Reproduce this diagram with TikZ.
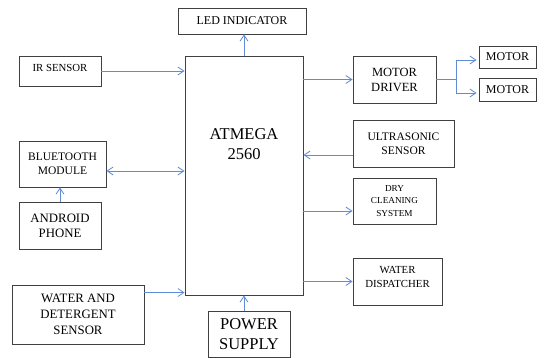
\documentclass[tikz,border=0pt]{standalone}
\usepackage{fontspec}
\setmainfont{Liberation Serif}
\usetikzlibrary{arrows.meta}
\definecolor{linkblue}{RGB}{96,140,212}
\definecolor{boxgray}{RGB}{64,64,64}
\newcommand{\fs}[2]{\fontsize{#1}{#2}\selectfont}

\begin{document}
\begin{tikzpicture}[x=1pt, y=-1pt,
  box/.style={draw=boxgray, line width=0.9pt, inner sep=0pt, align=center},
  link/.style={draw=linkblue, line width=0.8pt, -{Straight Barb[length=6pt,width=8pt]}}]
\useasboundingbox (0,0) rectangle (547,358);

% controller
\node[box, minimum width=118, minimum height=239,
  label={[font=\fs{16.5}{20}, align=center, yshift=31pt]center:ATMEGA\\2560}] (atm) at (244,175.5) {};
\node[box, minimum width=128, minimum height=26, font=\fs{12}{14}] (led) at (242,21) {LED INDICATOR};
\node[box, minimum width=82, minimum height=46, font=\fs{16.5}{20}] (pwr) at (249,334) {POWER\\SUPPLY};

% inputs
\node[box, minimum width=82, minimum height=30, font=\fs{10.8}{13},
  label={[font=\fs{10.8}{13}, yshift=3pt]center:IR SENSOR}] (ir) at (60,71) {};
\node[box, minimum width=87, minimum height=46, font=\fs{11.5}{14}] (bt) at (62.5,164) {BLUETOOTH\\MODULE};
\node[box, minimum width=82, minimum height=47, font=\fs{12.8}{15}] (phone) at (60,225.5) {ANDROID\\PHONE};
\node[box, minimum width=132, minimum height=59, font=\fs{12.8}{16}] (wds) at (78,314.5) {WATER AND\\DETERGENT\\SENSOR};

% outputs
\node[box, minimum width=83, minimum height=47, font=\fs{12.5}{15}] (drv) at (394.5,79.5) {MOTOR\\DRIVER};
\node[box, minimum width=57, minimum height=22, font=\fs{12}{14}] (mota) at (507.5,57) {MOTOR};
\node[box, minimum width=57, minimum height=23, font=\fs{12}{14}] (motb) at (507.5,89.5) {MOTOR};
\node[box, minimum width=101, minimum height=47, font=\fs{11.5}{14}] (us) at (403.5,143.5) {ULTRASONIC\\SENSOR};
\node[box, minimum width=83, minimum height=46, font=\fs{9.2}{12.5}] (dry) at (394.5,201) {DRY\\CLEANING\\SYSTEM};
\node[box, minimum width=89, minimum height=47,
  label={[font=\fs{10.8}{14}, align=center, anchor=north, yshift=-5pt]north:WATER\\DISPATCHER}] (disp) at (397.5,281.5) {};

% helper points
\coordinate (btin) at ([yshift=-7pt]bt.east);
\coordinate (wdout) at ([yshift=-8pt]wds.north east);
\coordinate (usout) at ([yshift=-11.5pt]us.west);
\coordinate (dryin) at ([yshift=-10pt]dry.west);
\coordinate (split) at ([xshift=20pt]drv.east);

% connections
\draw[link] (atm.north) -- (atm.north |- led.south);
\draw[link] (atm.south |- pwr.north) -- (atm.south);
\draw[link] (ir.east) -- (ir.east -| atm.west);
\draw[link, {Straight Barb[length=6pt,width=8pt]}-{Straight Barb[length=6pt,width=8pt]}] (btin) -- (btin -| atm.west);
\draw[link] (phone.north) -- (phone.north |- bt.south);
\draw[link] (wdout) -- (wdout -| atm.west);
\draw[link] (atm.east |- drv.west) -- (drv.west);
\draw[linkblue, line width=0.8pt] (drv.east) -- (split);
\draw[link, shorten >=2pt] (split) |- ([yshift=-3pt]mota.west);
\draw[link, shorten >=2pt] (split) |- ([yshift=-3.5pt]motb.west);
\draw[link] (usout) -- (usout -| atm.east);
\draw[link] (dryin -| atm.east) -- (dryin);
\draw[link] (atm.east |- disp.west) -- (disp.west);
\end{tikzpicture}
\end{document}
